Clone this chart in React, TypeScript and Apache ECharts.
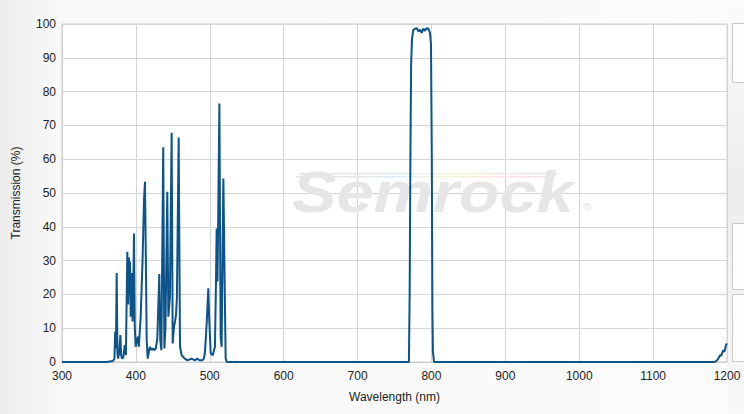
import React, { useEffect, useRef } from "react";
import * as echarts from "echarts";

const wavelengths: number[] = [
  300, 360, 369, 371, 372, 373, 374, 375, 376, 377.5, 379, 380, 381.5, 383, 385, 386.5,
  388.4, 389.5, 390.5, 391.5, 392, 393, 394.7, 395.5, 396.5, 397.4, 398.5, 399.7, 401, 402.5,
  404, 406.5, 409, 411, 412.3, 413.5, 414.6, 416, 418, 419, 421, 423, 425, 427, 429, 431.7,
  433, 434.5, 437, 438.5, 440, 442.5, 443.9, 446, 448.4, 449.8, 451.5, 453, 454.3, 455.5,
  457.9, 459.7, 462, 466, 470, 475, 480, 483, 486, 490, 492, 493.5, 495.8, 498, 499, 501.2,
  504, 507, 508.4, 509.3, 510.5, 513, 514.7, 516, 518.4, 520.2, 521.5, 523, 765, 769.5, 770.5,
  771.5, 772.5, 773.7, 775.4, 777.7, 780, 782.2, 784.5, 786.8, 789, 791.3, 793.6, 795.8, 798,
  799.4, 800.5, 801.3, 802, 803.5, 1183, 1186, 1188.3, 1190.5, 1192, 1195, 1196.5, 1198.6, 1200,
];

const transmission: number[] = [
  0, 0, 0.3, 1, 9, 4, 26.3, 2.5, 1, 3, 8, 2, 1, 1.5, 5, 2,
  32.6, 17, 31, 20, 29.7, 13.4, 26.3, 12, 21, 38, 10.4, 4.5, 6, 7.5,
  4.5, 13.4, 30, 48, 53.3, 30, 6.5, 1, 3.5, 4.5, 3.5, 4, 3.5, 4, 7, 26,
  6.5, 3.5, 63.5, 4, 10, 50.4, 13.4, 19, 67.8, 5.5, 10.4, 12, 14, 19,
  66.4, 4.5, 2, 1, 0.5, 1, 0.5, 1, 0.5, 0.5, 1, 3, 11.4, 21.8, 14, 2.6,
  2, 4.5, 23.8, 39.5, 23.8, 76.5, 7.5, 4.5, 54.3, 22.3, 1, 0, 0, 0, 20,
  60, 88, 95.7, 98.2, 98.6, 98.8, 97.8, 98.3, 97.4, 98.6, 98, 98.8, 98.6, 97.4,
  93.8, 60, 15, 3, 0, 0, 0.4, 1, 2, 1.8, 3.5, 3, 5, 5.5,
];

const xAxisTitle = "Wavelength (nm)";
const yAxisTitle = "Transmission (%)";
const watermarkText = "Semrock";

export default function App() {
  const ref = useRef<HTMLDivElement>(null);

  useEffect(() => {
    if (!ref.current) return;
    const chart = echarts.init(ref.current, undefined, { renderer: "svg" });
    const data = wavelengths.map((w, i) => [w, transmission[i]]);
    const font = "'Liberation Sans', Arial, sans-serif";
    const rainbow = () =>
      new echarts.graphic.LinearGradient(0, 0, 1, 0, [
        { offset: 0, color: "#e6e6e6" },
        { offset: 0.25, color: "#e6e6e6" },
        { offset: 0.4, color: "#dcefff" },
        { offset: 0.6, color: "#f7f7d0" },
        { offset: 0.8, color: "#fde3e3" },
        { offset: 1, color: "#f3e3e3" },
      ]);

    chart.setOption({
      animation: false,
      backgroundColor: "transparent",
      grid: {
        left: 62,
        right: 17,
        top: 24,
        bottom: 52,
        show: true,
        backgroundColor: "#ffffff",
        borderColor: "#cccccc",
        borderWidth: 1,
      },
      xAxis: {
        type: "value",
        min: 300,
        max: 1200,
        interval: 100,
        name: xAxisTitle,
        nameLocation: "middle",
        nameGap: 29,
        nameTextStyle: { color: "#222", fontSize: 12, fontFamily: font },
        axisLine: { show: true, lineStyle: { color: "#cccccc" } },
        axisTick: { show: false },
        axisLabel: {
          color: "#222",
          fontSize: 12,
          fontFamily: font,
          margin: 8,
          formatter: (v: number) => String(v),
        },
        splitLine: { show: true, lineStyle: { color: "#d4d4d4", width: 1 } },
      },
      yAxis: {
        type: "value",
        min: 0,
        max: 100,
        interval: 10,
        name: yAxisTitle,
        nameLocation: "middle",
        nameGap: 40,
        nameTextStyle: { color: "#222", fontSize: 12, fontFamily: font },
        axisLine: { show: true, lineStyle: { color: "#cccccc" } },
        axisTick: { show: false },
        axisLabel: {
          color: "#222",
          fontSize: 12,
          fontFamily: font,
          margin: 6,
          formatter: (v: number) => String(v),
        },
        splitLine: { show: true, lineStyle: { color: "#d4d4d4", width: 1 } },
      },
      graphic: [
        {
          type: "rect",
          z: 0,
          silent: true,
          shape: { x: 728, y: 0, width: 16, height: 414 },
          style: {
            fill: new echarts.graphic.LinearGradient(0, 0, 0, 1, [
              { offset: 0, color: "#fbfbfb" },
              { offset: 0.45, color: "#ededed" },
              { offset: 1, color: "#f8f8f8" },
            ]),
          },
        },
        {
          type: "rect",
          z: 1,
          silent: true,
          shape: { x: 732.5, y: 23.5, width: 14, height: 59 },
          style: { fill: "#fdfdfd", stroke: "#c8c8c8", lineWidth: 1 },
        },
        {
          type: "rect",
          z: 1,
          silent: true,
          shape: { x: 732.5, y: 223.5, width: 14, height: 66 },
          style: { fill: "#fdfdfd", stroke: "#c8c8c8", lineWidth: 1 },
        },
        {
          type: "rect",
          z: 1,
          silent: true,
          shape: { x: 732.5, y: 294.5, width: 14, height: 67 },
          style: { fill: "#fdfdfd", stroke: "#c8c8c8", lineWidth: 1 },
        },
        {
          type: "rect",
          z: 1,
          silent: true,
          shape: { x: 300, y: 173, width: 258, height: 1.5 },
          style: { fill: rainbow() },
        },
        {
          type: "rect",
          z: 1,
          silent: true,
          shape: { x: 296, y: 176, width: 256, height: 1.5 },
          style: { fill: rainbow() },
        },
        {
          type: "text",
          z: 1,
          silent: true,
          x: 292,
          y: 164,
          scaleX: 1.17,
          style: {
            text: watermarkText,
            fill: "#e6e6e6",
            font: "italic bold 57px 'Liberation Sans', Arial, sans-serif",
          },
        },
        {
          type: "text",
          z: 1,
          silent: true,
          x: 583,
          y: 201,
          style: {
            text: "®",
            fill: "#e2e2e2",
            font: "11px 'Liberation Sans', Arial, sans-serif",
          },
        },
      ],
      series: [
        {
          type: "line",
          z: 5,
          data,
          showSymbol: false,
          symbol: "none",
          lineStyle: { color: "#0b5388", width: 2 },
          itemStyle: { color: "#0b5388" },
        },
      ],
    });

    return () => chart.dispose();
  }, []);

  return (
    <div
      style={{
        position: "absolute",
        left: 0,
        top: 0,
        width: 744,
        height: 414,
        background: "linear-gradient(to right, #ececec 0px, #f9f9f9 60px, #fbfbfb 100%)",
      }}
    >
      <div ref={ref} style={{ width: 744, height: 414 }} />
    </div>
  );
}
